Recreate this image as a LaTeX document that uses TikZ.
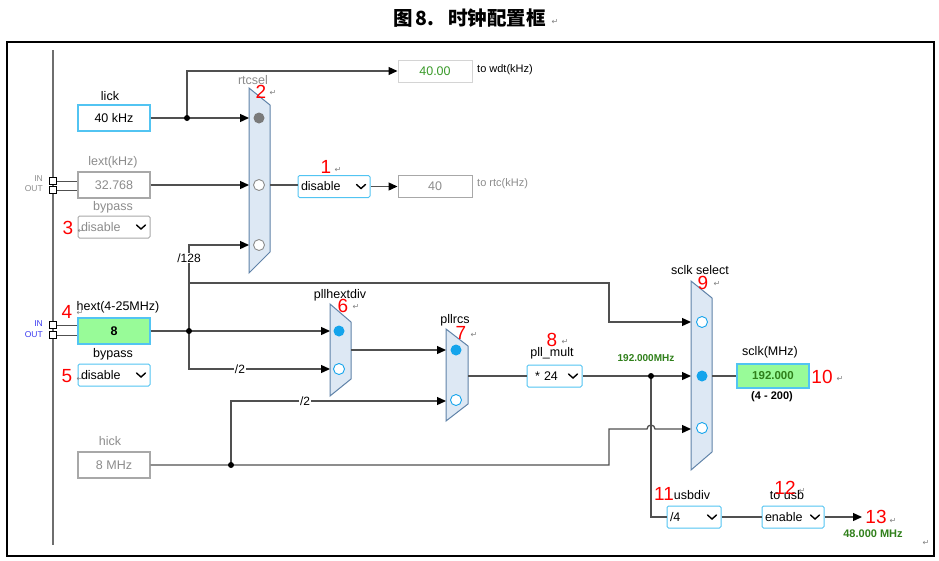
\documentclass[tikz,border=0pt]{standalone}
\usepackage{fontspec}
\setmainfont{Liberation Sans}
\newfontfamily\cjkfont{Noto Sans CJK SC}
\newfontfamily\djv{DejaVu Sans}
\usetikzlibrary{arrows.meta}
\definecolor{wirec}{HTML}{505050}
\definecolor{barc}{HTML}{6E6E6E}
\definecolor{muxfill}{HTML}{DDE8F4}
\definecolor{muxline}{HTML}{5F82A8}
\definecolor{selblue}{HTML}{14A4EC}
\definecolor{boxblue}{HTML}{52C4F2}
\definecolor{greyline}{HTML}{A8A8A8}
\definecolor{lightline}{HTML}{D4D4D4}
\definecolor{greytext}{HTML}{8C8C8C}
\definecolor{valgreen}{HTML}{3A9A2A}
\definecolor{boldgreen}{HTML}{2F7F1A}
\definecolor{boxgreen}{HTML}{98FB98}
\definecolor{numred}{HTML}{FF0000}
\definecolor{inblue}{HTML}{3A3AF0}
\definecolor{retgrey}{HTML}{808080}
\definecolor{selgrey}{HTML}{7A7A7A}
\newcommand\fs[1]{\fontsize{#1}{#1}\selectfont}
\newcommand\ddchev[1]{\draw[black, line width=1.4pt, line cap=round] ([xshift=-14pt,yshift=2pt]#1.east) -- ++(4.5,4) -- ++(4.5,-4);}
\begin{document}
\begin{tikzpicture}[x=1pt,y=-1pt,font=\fs{12.5},
  wire/.style={draw=wirec, line width=1.3pt},
  arr/.style={wire, -{Triangle[length=9pt,width=8pt,color=black]}},
  field/.style={draw=boxblue, line width=1.4pt, fill=white, minimum width=72pt, minimum height=26pt, inner sep=0pt},
  greyfield/.style={field, draw=greyline, text=greytext},
  greenfield/.style={field, fill=boxgreen, font=\fs{12.5}\bfseries},
  outbox/.style={draw=greyline, line width=1pt, fill=white, minimum width=74pt, minimum height=22pt, inner sep=0pt},
  dd/.style={draw=boxblue, line width=1pt, fill=white, rounded corners=1.5pt, minimum height=22pt, inner ysep=0pt, inner xsep=3pt, text width=#1, align=left},
  lbl/.style={inner sep=0pt},
  glbl/.style={inner sep=0pt, text=greytext},
  num/.style={inner sep=0pt, text=numred, font=\fs{19}},
  ret/.style={inner sep=0pt, text=retgrey, font=\djv\fs{8}},
  mux/.style={fill=muxfill, draw=muxline, line width=1pt},
  selon/.style={fill=selblue},
  seloff/.style={draw=selblue, fill=white, line width=0.9pt},
  sq/.style={draw=black, fill=white, minimum size=7pt, inner sep=0pt, line width=0.8pt},
  iolbl/.style={anchor=east, inner sep=0pt, font=\fs{8.5}},
  divlbl/.style={fill=white, inner sep=1pt, font=\fs{12}},
]
\useasboundingbox (0,0) rectangle (939,560);

% frame and title
\draw[line width=1.1pt] (7,42) rectangle (934,556);
\draw[draw=barc, line width=1.3pt] (53,50) -- (53,545);
\node[anchor=west, inner sep=0pt, font=\cjkfont\bfseries\fs{19.5}] (title) at (393,18) {图\hspace{3pt}8.\hspace{14pt}时钟配置框};
\node[ret] at (555,22) {↵};

% left column
\node[lbl] (lickl) at (110,96) {lick};
\node[field] (lick) at (114,118) {40 kHz};
\node[glbl] (lextl) at (113,162) {lext(kHz)};
\node[greyfield] (lext) at (114,185) {32.768};
\node[glbl] (byp1l) at (113,207) {bypass};
\node[dd=66pt, draw=greyline, text=greytext] (byp1) at (114,227) {disable};
\ddchev{byp1}
\node[lbl] (hextl) at (118,307) {hext(4-25MHz)};
\node[greenfield] (hext) at (114,331) {8};
\node[lbl] (byp2l) at (113,354) {bypass};
\node[dd=66pt] (byp2) at (114,375) {disable};
\ddchev{byp2}
\node[glbl] (hickl) at (110,441) {hick};
\node[greyfield] (hick) at (114,465) {8 MHz};

% IN / OUT pins
\node[sq] (sq1) at (53,181) {};
\node[sq] (sq2) at (53,190) {};
\node[sq] (sq3) at (53,325) {};
\node[sq] (sq4) at (53,335) {};
\draw[draw=wirec, line width=1pt] (sq1.east) -- (sq1.east -| lext.west);
\draw[draw=wirec, line width=1pt] (sq2.east) -- (sq2.east -| lext.west);
\draw[draw=wirec, line width=1pt] (sq3.east) -- (sq3.east -| hext.west);
\draw[draw=wirec, line width=1pt] (sq4.east) -- (sq4.east -| hext.west);
\node[iolbl, text=greytext] at (43,179) {IN};
\node[iolbl, text=greytext] at (43,189) {OUT};
\node[iolbl, text=inblue] at (43,324) {IN};
\node[iolbl, text=inblue] at (43,335) {OUT};

% rtcsel mux
\draw[mux] (249,88) -- (270,105) -- (270,252) -- (249,273) -- cycle;
\fill[selgrey] (259,118) circle[radius=5.5];
\draw[greytext, fill=white, line width=0.9pt] (259,185) circle[radius=5.5];
\draw[greytext, fill=white, line width=0.9pt] (259,245) circle[radius=5.5];
\coordinate (rsa) at (249,118);
\coordinate (rsb) at (249,185);
\coordinate (rsc) at (249,245);
\coordinate (rso) at (270,185);

% pllhextdiv mux
\draw[mux] (330,304) -- (351,322) -- (351,379) -- (330,396) -- cycle;
\fill[selon] (339,331) circle[radius=5.5];
\draw[seloff] (339,369) circle[radius=5.5];
\coordinate (pha) at (330,331);
\coordinate (phb) at (330,369);
\coordinate (pho) at (351,350);

% pllrcs mux
\draw[mux] (446,329) -- (468,346) -- (468,404) -- (446,421) -- cycle;
\fill[selon] (456,350) circle[radius=5.5];
\draw[seloff] (456,400) circle[radius=5.5];
\coordinate (pra) at (446,350);
\coordinate (prb) at (446,401);
\coordinate (pro) at (468,376);

% sclk select mux
\draw[mux] (691,281) -- (712,298) -- (712,452) -- (691,470) -- cycle;
\draw[seloff] (702,322) circle[radius=5.5];
\fill[selon] (702,376) circle[radius=5.5];
\draw[seloff] (702,428) circle[radius=5.5];
\coordinate (sca) at (691,322);
\coordinate (scb) at (691,376);
\coordinate (scc) at (691,429);
\coordinate (sco) at (712,376);

% other boxes
\node[outbox, draw=lightline, text=valgreen] (wdt) at (435,71) {40.00};
\node[lbl, anchor=west, font=\fs{11}] (wdtl) at (477,70) {to wdt(kHz)};
\node[dd=66pt] (rtcdd) at (334,186.5) {disable};
\ddchev{rtcdd}
\node[outbox, text=greytext] (rtcbox) at (435,186.5) {40};
\node[glbl, anchor=west, font=\fs{11}] (rtcl) at (477,184) {to rtc(kHz)};
\node[dd=49pt] (pm) at (554.5,376) {\hspace*{5pt}* 24};
\ddchev{pm}
\node[greenfield, text=boldgreen, font=\fs{11.5}\bfseries, minimum height=24pt] (sclk) at (773,376) {192.000};
\node[dd=48pt] (usbdiv) at (694,517) {/4};
\ddchev{usbdiv}
\node[dd=56pt] (usbdd) at (793,517) {enable};
\ddchev{usbdd}

% junctions
\coordinate (J1) at (187,118);
\coordinate (J2) at (189,331);
\coordinate (J3) at (231,465);
\coordinate (J4) at (651,376);
\coordinate (B1) at (189,283);
\coordinate (usbout) at (862,517);

% wires
\draw[arr] (lick.east) -- (rsa);
\draw[arr] (J1) |- (wdt.west);
\draw[arr] (lext.east) -- (rsb);
\draw[wire] (rso) -- (rso -| rtcdd.west);
\draw[arr] (rtcdd.east) -- (rtcbox.west);
\draw[arr] (hext.east) -- (pha);
\draw[arr] (J2) |- (rsc);
\draw[arr] (B1) -| ([xshift=-82pt]sca) -- (sca);
\draw[arr] (J2) |- (phb);
\draw[arr] (pho) -- (pra);
\draw[arr] (J3) |- (prb);
\draw[arr] (hick.east) -| ([xshift=-82pt]scc) -- ([xshift=-44pt]scc) arc[start angle=180, end angle=360, radius=4] -- (scc);
\draw[wire] (pro) -- (pm.west);
\draw[arr] (pm.east) -- (scb);
\draw[wire] (sco) -- (sclk.west);
\draw[wire] (J4) |- (usbdiv.west);
\draw[wire] (usbdiv.east) -- (usbdd.west);
\draw[arr] (usbdd.east) -- (usbout);
\fill (J1) circle[radius=3];
\fill (J2) circle[radius=3];
\fill (J3) circle[radius=3];
\fill (J4) circle[radius=3];

% divider labels
\node[divlbl] at (189,258) {/128};
\node[divlbl] at (240,369) {/2};
\node[divlbl] at (305,401) {/2};

% mux labels
\node[glbl] at (253,80) {rtcsel};
\node[lbl] at (340,295) {pllhextdiv};
\node[lbl] at (455,320) {pllrcs};
\node[lbl] at (552,353) {pll\_mult};
\node[lbl] at (700,270) {sclk select};
\node[lbl] at (770,352) {sclk(MHz)};
\node[lbl, font=\fs{11}\bfseries] at (772,397) {(4 - 200)};
\node[lbl, text=boldgreen, font=\fs{10}\bfseries] at (646,358) {192.000MHz};
\node[lbl] at (692,495) {usbdiv};
\node[lbl] at (787,495) {to usb};
\node[lbl, text=boldgreen, font=\fs{11}\bfseries] at (873,534) {48.000 MHz};

% red callout numbers
\node[num] at (326,167) {1};   \node[ret] at (338,170) {↵};
\node[num] at (261,92) {2};    \node[ret] at (273,93) {↵};
\node[num] at (68,228) {3};    \node[ret] at (81,231) {↵};
\node[num] at (67,312) {4};    \node[ret] at (80,313) {↵};
\node[num] at (67,376) {5};    \node[ret] at (80,379) {↵};
\node[num] at (343,306) {6};   \node[ret] at (356,307) {↵};
\node[num] at (461,333) {7};   \node[ret] at (474,335) {↵};
\node[num] at (552,340) {8};   \node[ret] at (565,342) {↵};
\node[num] at (703,283) {9};   \node[ret] at (717,284) {↵};
\node[num] at (822,377) {10};  \node[ret] at (840,379) {↵};
\node[num] at (664,494) {11};
\node[num] at (785,488) {12};  \node[ret] at (802,491) {↵};
\node[num] at (876,517) {13};  \node[ret] at (893,521) {↵};
\node[ret] at (926,543) {↵};
\end{tikzpicture}
\end{document}
